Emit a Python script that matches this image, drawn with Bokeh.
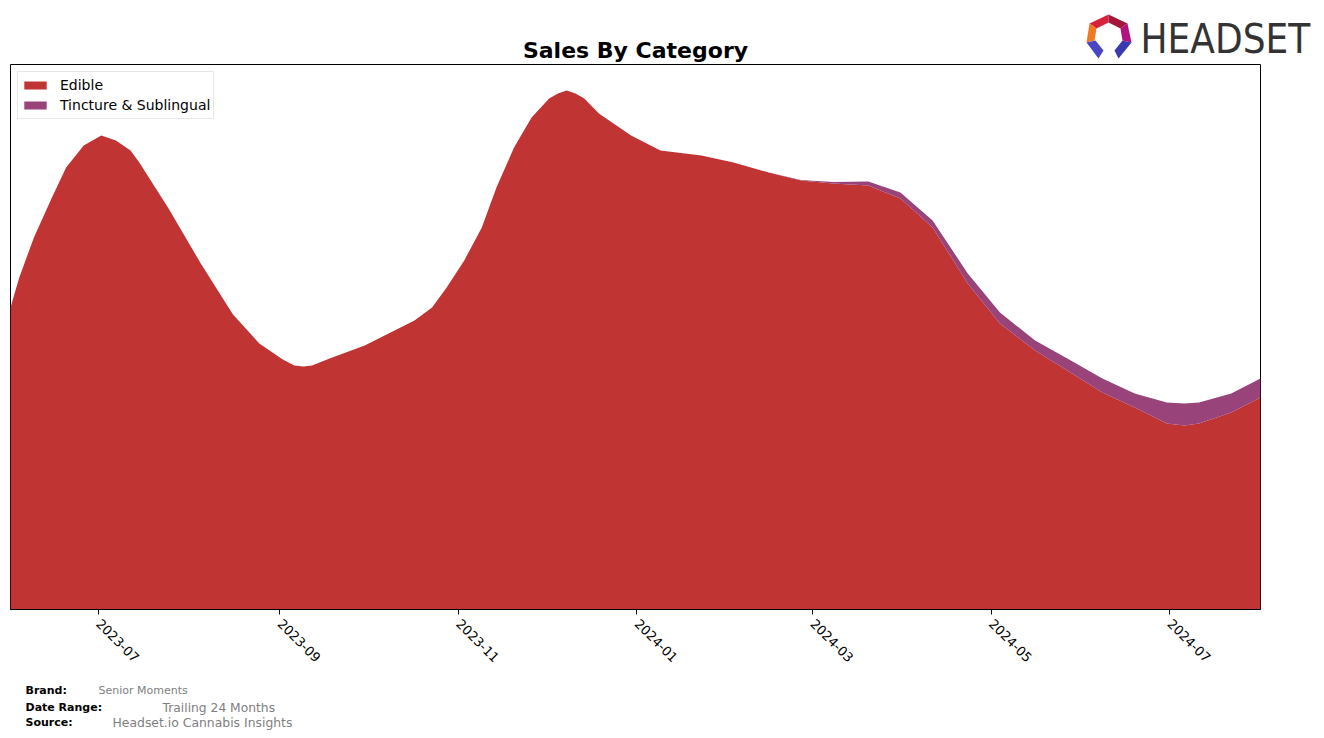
import math
from datetime import datetime
from bokeh.plotting import figure
from bokeh.layouts import column
from bokeh.models import (Range1d, FixedTicker, DatetimeTickFormatter, Label,
                          ColumnDataSource)
from bokeh.embed import file_html
from bokeh.resources import INLINE

# ---------------- data ----------------
dates = ["2023-06-01", "2023-06-04", "2023-06-09", "2023-06-15", "2023-06-20", "2023-06-26",
         "2023-06-29", "2023-07-02", "2023-07-07", "2023-07-12", "2023-07-15", "2023-07-25",
         "2023-08-05", "2023-08-16", "2023-08-25", "2023-09-02", "2023-09-06", "2023-09-09",
         "2023-09-12", "2023-09-18", "2023-09-30", "2023-10-17", "2023-10-23", "2023-10-28",
         "2023-11-03", "2023-11-09", "2023-11-14", "2023-11-20", "2023-11-26", "2023-12-02",
         "2023-12-05", "2023-12-08", "2023-12-11", "2023-12-14", "2023-12-19", "2023-12-30",
         "2024-01-09", "2024-01-23", "2024-02-03", "2024-02-15", "2024-02-26", "2024-03-08",
         "2024-03-20", "2024-03-31", "2024-04-11", "2024-04-23", "2024-05-04", "2024-05-16",
         "2024-05-27", "2024-06-08", "2024-06-19", "2024-06-30", "2024-07-06", "2024-07-11",
         "2024-07-22", "2024-08-01"]
edible = [302, 332, 372, 411, 442, 464,
          469, 474, 469, 459, 447, 401,
          346, 295, 266, 250, 244, 243,
          244, 251, 264, 289, 302, 322,
          349, 382, 422, 462, 492, 511,
          516, 519, 516, 511, 496, 474,
          459, 454, 447, 437, 429, 426,
          424, 411, 382, 326, 286, 259,
          239, 217, 202, 186, 184, 186,
          197, 212]
tincture = [0, 0, 0, 0, 0, 0,
            0, 0, 0, 0, 0, 0,
            0, 0, 0, 0, 0, 0,
            0, 0, 0, 0, 0, 0,
            0, 0, 0, 0, 0, 0,
            0, 0, 0, 0, 0, 0,
            0, 0, 0, 0, 0.5, 1.5,
            4, 6, 7, 10, 11, 10,
            12, 14, 14, 21, 22, 21,
            19, 19]
categories = ["Edible", "Tincture & Sublingual"]
colors = ["#c03434", "#984379"]
tick_labels = ["2023-07", "2023-09", "2023-11", "2024-01", "2024-03", "2024-05", "2024-07"]

W = 1324
TOP_H, MAIN_H, FOOT_H = 63, 617, 58


def canvas_fig(h, y0):
    f = figure(width=W, height=h, output_backend="svg", toolbar_location=None,
               x_range=Range1d(0, W), y_range=Range1d(y0 + h, y0),
               x_axis_location=None, y_axis_location=None,
               min_border=0, min_border_left=0, min_border_right=0,
               min_border_top=0, min_border_bottom=0, frame_align=False)
    f.outline_line_color = None
    f.grid.visible = False
    f.background_fill_color = "white"
    f.border_fill_color = "white"
    return f


def add_label(f, text, X, Y, size, color="black", bold=False, align="left",
              font="DejaVu Sans"):
    f.add_layout(Label(x=X, y=Y, text=text, text_font=font, text_font_size=size,
                       text_color=color, text_font_style="bold" if bold else "normal",
                       text_align=align, text_baseline="middle"))


# ---------------- header: title + logo ----------------
top = canvas_fig(TOP_H, 0)
add_label(top, "Sales By Category", 635, 50, "22px", bold=True, align="center")
logo_parts = [
    ([1089, 1108, 1108, 1096], [23, 14, 22, 28], "#d6233c"),
    ([1108, 1127, 1120, 1108], [14, 23, 28, 22], "#a3183a"),
    ([1089, 1096, 1094, 1086], [23, 28, 40, 42], "#f07a24"),
    ([1127, 1131, 1122, 1120], [23, 42, 40, 28], "#b3127c"),
    ([1086, 1095, 1103, 1098], [42, 40, 50, 58], "#4747c2"),
    ([1131, 1122, 1114, 1118], [42, 40, 50, 58], "#3a3ab0"),
]
top.patches(xs=[a for a, b, c in logo_parts], ys=[b for a, b, c in logo_parts],
            fill_color=[c for a, b, c in logo_parts], line_color=None)
add_label(top, "HEADSET", 1140, 38, "40px", color="#333333",
          font="'DejaVu Sans Condensed', sans-serif")

# ---------------- main chart ----------------
src = ColumnDataSource(dict(date=[datetime.fromisoformat(d) for d in dates],
                            Edible=edible, Tincture=tincture))

p = figure(width=W, height=MAIN_H, output_backend="svg", toolbar_location=None,
           x_axis_type="datetime",
           x_range=Range1d(datetime(2023, 6, 1), datetime(2024, 8, 1)),
           y_range=Range1d(0, 545),
           min_border_left=10, min_border_right=64,
           min_border_top=1, min_border_bottom=MAIN_H - 1 - 545, frame_align=False)
p.background_fill_color = "white"
p.border_fill_color = "white"
p.outline_line_color = "black"
p.outline_line_width = 1
p.grid.visible = False
p.yaxis.visible = False

p.varea_stack(stackers=["Edible", "Tincture"], x="date", source=src,
              color=colors, legend_label=categories)

ticks = [datetime.fromisoformat(t + "-01").timestamp() * 1000 for t in tick_labels]
p.xaxis.ticker = FixedTicker(ticks=ticks)
fmt = "%Y-%m"
p.xaxis.formatter = DatetimeTickFormatter(years=fmt, months=fmt, days=fmt, hours=fmt,
                                          minutes=fmt, seconds=fmt, milliseconds=fmt,
                                          microseconds=fmt, hourmin=fmt, minsec=fmt)
p.xaxis.major_label_orientation = -math.pi / 4
p.xaxis.major_label_text_font = "DejaVu Sans"
p.xaxis.major_label_text_font_size = "13px"
p.xaxis.major_label_text_color = "black"
p.xaxis.axis_line_color = "black"
p.xaxis.major_tick_line_color = "black"
p.xaxis.major_tick_out = 5
p.xaxis.major_tick_in = 0
p.xaxis.minor_tick_line_color = None
p.xaxis.major_label_standoff = 7

lg = p.legend[0]
lg.location = "top_left"
lg.margin = 7
lg.padding = 3
lg.spacing = 0
lg.glyph_width = 28
lg.glyph_height = 10
lg.label_height = 20
lg.label_standoff = 11
lg.label_text_font = "DejaVu Sans"
lg.label_text_font_size = "14px"
lg.label_text_color = "black"
lg.border_line_color = "#d0d0d0"
lg.border_line_width = 1
lg.background_fill_alpha = 0.9

# ---------------- footer ----------------
foot = canvas_fig(FOOT_H, TOP_H + MAIN_H)
add_label(foot, "Brand:", 25, 690, "11px", bold=True)
add_label(foot, "Senior Moments", 98, 690, "11px", color="#808080")
add_label(foot, "Date Range:", 25, 707, "11px", bold=True)
add_label(foot, "Trailing 24 Months", 162, 707, "12.3px", color="#808080")
add_label(foot, "Source:", 25, 722, "11px", bold=True)
add_label(foot, "Headset.io Cannabis Insights", 112, 722, "12.4px", color="#808080")

layout = column(top, p, foot, spacing=0)
open("out.html", "w").write(file_html(layout, INLINE))
